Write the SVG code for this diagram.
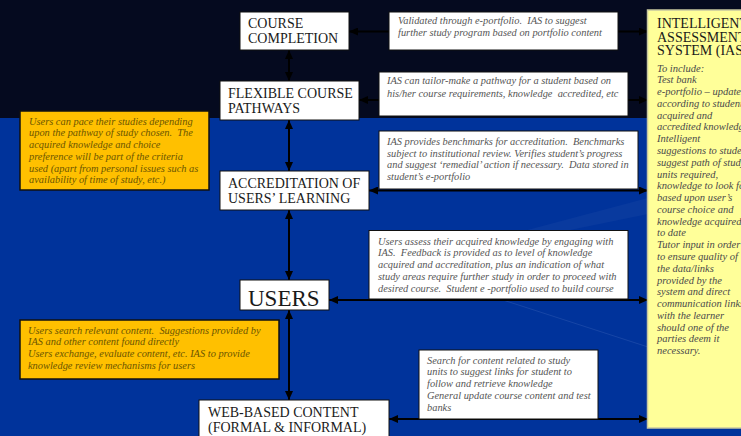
<svg xmlns="http://www.w3.org/2000/svg" width="741" height="436" viewBox="0 0 741 436" xml:space="preserve">
<style>
.t{font-family:"Liberation Serif","Times New Roman",serif;font-size:14px;fill:#1a1a1a}
.big{font-size:23px}
.n{font-family:"Liberation Serif","Times New Roman",serif;font-style:italic;font-size:10.4px;fill:#555;white-space:pre}
.o{fill:#6b5500}
.p{font-size:10.5px;fill:#4a4a4a}
.box{fill:#fff;stroke:#111;stroke-width:1}
.obox{fill:#ffc000;stroke:#111;stroke-width:1.5}
.c{stroke:#000;stroke-width:2;fill:none;marker-start:url(#ah);marker-end:url(#ah)}
</style>
<defs>
<marker id="ah" markerUnits="userSpaceOnUse" markerWidth="9" markerHeight="8" refX="9" refY="4" orient="auto-start-reverse">
<path d="M0,0 L9,4 L0,8 z" fill="#000"/>
</marker>
</defs>
<g id="background">
<rect x="0" y="0" width="741" height="436" fill="#00339b"/>
<rect x="0" y="0" width="741" height="118" fill="#050a1f"/>
<polygon points="520,232 648,198 648,214 570,230" fill="#3a62b8" opacity="0.15"/>
<line x1="503" y1="300" x2="648" y2="347" stroke="#4a70c0" stroke-width="1" opacity="0.3"/>
</g>
<g id="connectors">
<line class="c" x1="289" y1="50" x2="289" y2="81"/>
<line class="c" x1="289" y1="120" x2="289" y2="171"/>
<line class="c" x1="289" y1="210" x2="289" y2="280"/>
<line class="c" x1="289" y1="310" x2="289" y2="400"/>
<line class="c" x1="349" y1="31.5" x2="648" y2="31.5"/>
<line class="c" x1="359" y1="100" x2="648" y2="100"/>
<line class="c" x1="369" y1="190.5" x2="648" y2="190.5"/>
<line class="c" x1="329" y1="300" x2="648" y2="300"/>
<line class="c" x1="389" y1="419" x2="648" y2="419"/>
</g>
<g id="course-completion">
<rect class="box" x="240" y="12" width="109" height="38"/>
<text class="t" x="248" y="28">COURSE</text>
<text class="t" x="248" y="43">COMPLETION</text>
</g>
<g id="note-validated">
<rect class="box" x="389" y="12" width="229" height="38"/>
<text class="n" x="398" y="24">Validated through e-portfolio.  IAS to suggest</text>
<text class="n" x="398" y="36">further study program based on portfolio content</text>
</g>
<g id="flexible-pathways">
<rect class="box" x="220" y="81" width="139" height="39"/>
<text class="t" x="228" y="98">FLEXIBLE COURSE</text>
<text class="t" x="228" y="113">PATHWAYS</text>
</g>
<g id="note-tailor">
<rect class="box" x="379" y="72" width="249" height="44"/>
<text class="n" x="387" y="84">IAS can tailor-make a pathway for a student based on</text>
<text class="n" x="387" y="97">his/her course requirements, knowledge  accredited, etc</text>
</g>
<g id="note-pace">
<rect class="obox" x="20" y="111" width="189" height="79"/>
<text class="n o" x="29" y="124.5">Users can pace their studies depending</text>
<text class="n o" x="29" y="136.3">upon the pathway of study chosen.  The</text>
<text class="n o" x="29" y="148">acquired knowledge and choice</text>
<text class="n o" x="29" y="159.8">preference will be part of the criteria</text>
<text class="n o" x="29" y="171.5">used (apart from personal issues such as</text>
<text class="n o" x="29" y="183.3">availability of time of study, etc.)</text>
</g>
<g id="accreditation">
<rect class="box" x="220" y="171" width="149" height="39"/>
<text class="t" x="228" y="188">ACCREDITATION OF</text>
<text class="t" x="228" y="203">USERS’ LEARNING</text>
</g>
<g id="note-benchmarks">
<rect class="box" x="379" y="131" width="259" height="58"/>
<text class="n" x="387" y="145">IAS provides benchmarks for accreditation.  Benchmarks</text>
<text class="n" x="387" y="156.7">subject to institutional review. Verifies student’s progress</text>
<text class="n" x="387" y="168.3">and suggest ‘remedial’ action if necessary.  Data stored in</text>
<text class="n" x="387" y="180">student’s e-portfolio</text>
</g>
<g id="note-assess">
<rect class="box" x="369" y="230.5" width="259" height="68.5"/>
<text class="n" x="378" y="244.5">Users assess their acquired knowledge by engaging with</text>
<text class="n" x="378" y="256.2">IAS.  Feedback is provided as to level of knowledge</text>
<text class="n" x="378" y="268">acquired and accreditation, plus an indication of what</text>
<text class="n" x="378" y="279.7">study areas require further study in order to proceed with</text>
<text class="n" x="378" y="291.5">desired course.  Student e -portfolio used to build course</text>
</g>
<g id="users">
<rect class="box" x="240" y="280" width="89" height="30"/>
<text class="t big" x="248" y="306">USERS</text>
</g>
<g id="note-search-users">
<rect class="obox" x="20" y="320" width="259" height="59"/>
<text class="n o" x="28" y="333.5">Users search relevant content.  Suggestions provided by</text>
<text class="n o" x="28" y="345.3">IAS and other content found directly</text>
<text class="n o" x="28" y="357">Users exchange, evaluate content, etc. IAS to provide</text>
<text class="n o" x="28" y="368.8">knowledge review mechanisms for users</text>
</g>
<g id="web-content">
<rect class="box" x="199" y="400" width="190" height="40"/>
<text class="t" x="208" y="417">WEB-BASED CONTENT</text>
<text class="t" x="208" y="432">(FORMAL &amp; INFORMAL)</text>
</g>
<g id="note-search">
<rect class="box" x="419" y="350" width="179" height="69"/>
<text class="n" x="427" y="363.5">Search for content related to study</text>
<text class="n" x="427" y="375.3">units to suggest links for student to</text>
<text class="n" x="427" y="387">follow and retrieve knowledge</text>
<text class="n" x="427" y="398.8">General update course content and test</text>
<text class="n" x="427" y="410.5">banks</text>
</g>
<g id="ias">
<rect x="647.5" y="10" width="100" height="418" fill="#ffff99" stroke="#c8c8a0" stroke-width="1.5"/>
<text class="t" x="657" y="28">INTELLIGENT</text>
<text class="t" x="657" y="41.5">ASSESSMENT</text>
<text class="t" x="657" y="55">SYSTEM (IAS)</text>
<text class="n p" x="657" y="71.5">To include:</text>
<text class="n p" x="657" y="83.3">Test bank</text>
<text class="n p" x="657" y="95.1">e-portfolio – updated</text>
<text class="n p" x="657" y="106.8">according to students</text>
<text class="n p" x="657" y="118.6">acquired and</text>
<text class="n p" x="657" y="130.4">accredited knowledge</text>
<text class="n p" x="657" y="142.2">Intelligent</text>
<text class="n p" x="657" y="154">suggestions to students</text>
<text class="n p" x="657" y="165.7">suggest path of study</text>
<text class="n p" x="657" y="177.5">units required,</text>
<text class="n p" x="657" y="189.3">knowledge to look for</text>
<text class="n p" x="657" y="201.1">based upon user’s</text>
<text class="n p" x="657" y="212.9">course choice and</text>
<text class="n p" x="657" y="224.6">knowledge acquired</text>
<text class="n p" x="657" y="236.4">to date</text>
<text class="n p" x="657" y="248.2">Tutor input in order</text>
<text class="n p" x="657" y="260">to ensure quality of</text>
<text class="n p" x="657" y="271.8">the data/links</text>
<text class="n p" x="657" y="283.5">provided by the</text>
<text class="n p" x="657" y="295.3">system and direct</text>
<text class="n p" x="657" y="307.1">communication links</text>
<text class="n p" x="657" y="318.9">with the learner</text>
<text class="n p" x="657" y="330.7">should one of the</text>
<text class="n p" x="657" y="342.4">parties deem it</text>
<text class="n p" x="657" y="354.2">necessary.</text>
</g>
</svg>
